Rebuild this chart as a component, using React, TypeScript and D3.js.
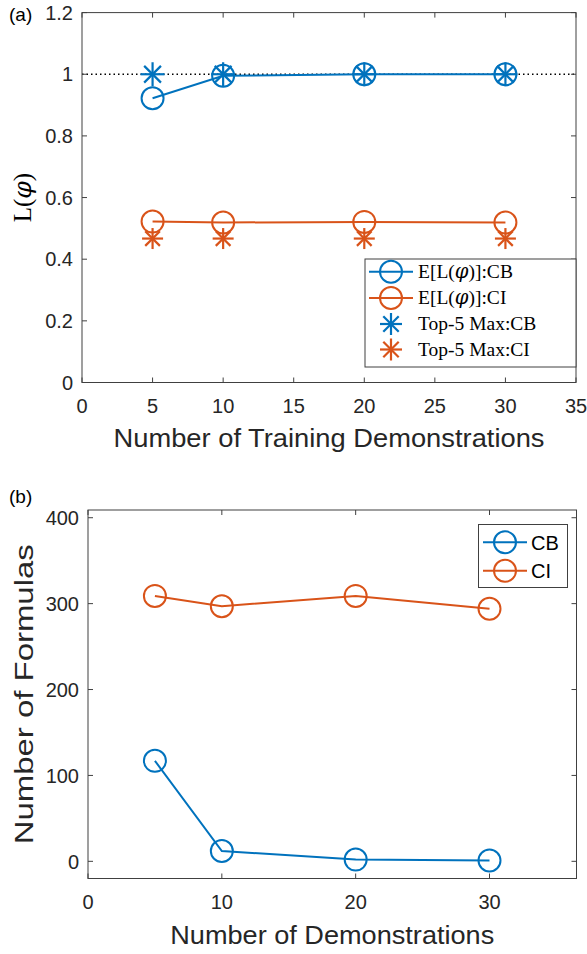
import React from "react";
import * as d3 from "d3";

const demosA = [5, 10, 20, 30];
const meanCB = [0.922, 0.995, 1.0, 1.0];
const meanCI = [0.522, 0.519, 0.521, 0.519];
const topCB = [1.0, 1.0, 1.0, 1.0];
const topCI = [0.467, 0.467, 0.467, 0.467];
const xTicksA = [0, 5, 10, 15, 20, 25, 30, 35];
const yTicksA = [0, 0.2, 0.4, 0.6, 0.8, 1, 1.2];

const demosB = [5, 10, 20, 30];
const formulasCB = [117, 12, 2, 1];
const formulasCI = [309, 297, 309, 294];
const xTicksB = [0, 10, 20, 30];
const yTicksB = [0, 100, 200, 300, 400];

const BLUE = "#0072BD";
const ORANGE = "#D95319";
const AX = "#404040";
const SANS = "'Liberation Sans', Arial, sans-serif";
const SERIF = "'Liberation Serif', 'DejaVu Serif', serif";
const PHI = "'DejaVu Serif', serif";

function Asterisk({ x, y, r, color }: { x: number; y: number; r: number; color: string }) {
  const d = r * 0.7;
  return (
    <g stroke={color} strokeWidth={2.2} fill="none">
      <line x1={x - r} y1={y} x2={x + r} y2={y} />
      <line x1={x} y1={y - r} x2={x} y2={y + r} />
      <line x1={x - d} y1={y - d} x2={x + d} y2={y + d} />
      <line x1={x - d} y1={y + d} x2={x + d} y2={y - d} />
    </g>
  );
}

function Frame({ x, y, xt, yt, xfmt, yfmt, tl }: any) {
  const [x0, x1] = x.range();
  const [y0, y1] = y.range();
  return (
    <g>
      <rect x={x0} y={y1} width={x1 - x0} height={y0 - y1} fill="none" stroke={AX} strokeWidth={1} />
      {xt.map((t: number) => (
        <g key={"x" + t}>
          <line x1={x(t)} x2={x(t)} y1={y0} y2={y0 - tl} stroke={AX} />
          <line x1={x(t)} x2={x(t)} y1={y1} y2={y1 + tl} stroke={AX} />
          <text x={x(t)} y={y0 + 30} textAnchor="middle" fontFamily={SANS} fontSize={20} fill="#262626">
            {xfmt(t)}
          </text>
        </g>
      ))}
      {yt.map((t: number) => (
        <g key={"y" + t}>
          <line x1={x0} x2={x0 + tl} y1={y(t)} y2={y(t)} stroke={AX} />
          <line x1={x1} x2={x1 - tl} y1={y(t)} y2={y(t)} stroke={AX} />
          <text x={x0 - 9} y={y(t)} dy="0.36em" textAnchor="end" fontFamily={SANS} fontSize={20} fill="#262626">
            {yfmt(t)}
          </text>
        </g>
      ))}
    </g>
  );
}

function PhiLabel({ pre, post }: { pre: string; post: string }) {
  return (
    <>
      {pre}
      <tspan fontFamily={PHI} fontStyle="italic">φ</tspan>
      {post}
    </>
  );
}

export default function App() {
  const W = 587, H = 954;

  // Panel (a)
  const xa = d3.scaleLinear().domain([0, 35]).range([82, 576]);
  const ya = d3.scaleLinear().domain([0, 1.2]).range([382.5, 12.6]);
  const lineA = d3.line<[number, number]>().x((d) => xa(d[0])).y((d) => ya(d[1]));
  const ptsMeanCB = demosA.map((d, i) => [d, meanCB[i]] as [number, number]);
  const ptsMeanCI = demosA.map((d, i) => [d, meanCI[i]] as [number, number]);

  // Panel (b)
  const xb = d3.scaleLinear().domain([0, 36.5]).range([88, 576.5]);
  const yb = d3.scaleLinear().domain([-20, 409]).range([878.5, 510]);
  const lineB = d3.line<[number, number]>().x((d) => xb(d[0])).y((d) => yb(d[1]));
  const ptsCB = demosB.map((d, i) => [d, formulasCB[i]] as [number, number]);
  const ptsCI = demosB.map((d, i) => [d, formulasCI[i]] as [number, number]);

  const R = 11;

  const legA = [
    { pre: "E[L(", post: ")]:CB", color: BLUE, kind: "circle" },
    { pre: "E[L(", post: ")]:CI", color: ORANGE, kind: "circle" },
    { pre: "Top-5 Max:CB", post: "", color: BLUE, kind: "star" },
    { pre: "Top-5 Max:CI", post: "", color: ORANGE, kind: "star" },
  ];
  const legAy = [271.7, 298, 324, 349.5];

  return (
    <svg width={W} height={H} style={{ display: "block", position: "absolute", left: 0, top: 0 }}>
      <rect width={W} height={H} fill="#fff" />
      {/* Panel (a) */}
      <text x={9} y={21} fontFamily={SANS} fontSize={19} fill="#000">(a)</text>
      <line x1={xa(0)} x2={xa(35)} y1={ya(1)} y2={ya(1)} stroke="#000" strokeWidth={1.3} strokeDasharray="1.5,3" />
      <path d={lineA(ptsMeanCB) || ""} fill="none" stroke={BLUE} strokeWidth={2} />
      <path d={lineA(ptsMeanCI) || ""} fill="none" stroke={ORANGE} strokeWidth={2} />
      {ptsMeanCB.map((p, i) => (
        <circle key={"mcb" + i} cx={xa(p[0])} cy={ya(p[1])} r={R} fill="none" stroke={BLUE} strokeWidth={2} />
      ))}
      {ptsMeanCI.map((p, i) => (
        <circle key={"mci" + i} cx={xa(p[0])} cy={ya(p[1])} r={R} fill="none" stroke={ORANGE} strokeWidth={2} />
      ))}
      {demosA.map((d, i) => (
        <Asterisk key={"tcb" + i} x={xa(d)} y={ya(topCB[i])} r={12} color={BLUE} />
      ))}
      {demosA.map((d, i) => (
        <Asterisk key={"tci" + i} x={xa(d)} y={ya(topCI[i])} r={10.5} color={ORANGE} />
      ))}
      <Frame x={xa} y={ya} xt={xTicksA} yt={yTicksA} xfmt={(t: number) => String(t)} yfmt={(t: number) => String(t)} tl={5} />
      <text x={(82 + 576) / 2} y={447} textAnchor="middle" fontFamily={SANS} fontSize={25} textLength={431} lengthAdjust="spacingAndGlyphs" fill="#262626">
        Number of Training Demonstrations
      </text>
      <text transform={`translate(31, ${(12.6 + 382.5) / 2}) rotate(-90)`} textAnchor="middle" fontFamily={SERIF} fontSize={25} fill="#000">
        <PhiLabel pre="L(" post=")" />
      </text>
      {/* Legend (a) */}
      <rect x={365} y={259} width={211} height={108} fill="#fff" stroke={AX} strokeWidth={1} />
      {legA.map((e, i) => (
        <g key={"la" + i}>
          {e.kind === "circle" ? (
            <g>
              <line x1={369} x2={413} y1={legAy[i]} y2={legAy[i]} stroke={e.color} strokeWidth={2} />
              <circle cx={391} cy={legAy[i]} r={R} fill="none" stroke={e.color} strokeWidth={2} />
            </g>
          ) : (
            <Asterisk x={391} y={legAy[i]} r={11} color={e.color} />
          )}
          <text x={418} y={legAy[i]} dy="0.33em" fontFamily={SERIF} fontSize={19.5} fill="#000">
            {e.kind === "circle" ? <PhiLabel pre={e.pre} post={e.post} /> : e.pre}
          </text>
        </g>
      ))}

      {/* Panel (b) */}
      <text x={9} y={503} fontFamily={SANS} fontSize={19} fill="#000">(b)</text>
      <path d={lineB(ptsCB) || ""} fill="none" stroke={BLUE} strokeWidth={2} />
      <path d={lineB(ptsCI) || ""} fill="none" stroke={ORANGE} strokeWidth={2} />
      {ptsCB.map((p, i) => (
        <circle key={"bcb" + i} cx={xb(p[0])} cy={yb(p[1])} r={R} fill="none" stroke={BLUE} strokeWidth={2} />
      ))}
      {ptsCI.map((p, i) => (
        <circle key={"bci" + i} cx={xb(p[0])} cy={yb(p[1])} r={R} fill="none" stroke={ORANGE} strokeWidth={2} />
      ))}
      <Frame x={xb} y={yb} xt={xTicksB} yt={yTicksB} xfmt={(t: number) => String(t)} yfmt={(t: number) => String(t)} tl={5} />
      <text x={(88 + 576.5) / 2} y={944} textAnchor="middle" fontFamily={SANS} fontSize={26} textLength={324} lengthAdjust="spacingAndGlyphs" fill="#262626">
        Number of Demonstrations
      </text>
      <text transform={`translate(33, ${(510 + 878.5) / 2}) rotate(-90)`} textAnchor="middle" fontFamily={SANS} fontSize={26} textLength={300} lengthAdjust="spacingAndGlyphs" fill="#262626">
        Number of Formulas
      </text>
      {/* Legend (b) */}
      <rect x={478.5} y={524.5} width={89} height={63} fill="#fff" stroke={AX} strokeWidth={1} />
      {[
        { label: "CB", color: BLUE, y: 542.3 },
        { label: "CI", color: ORANGE, y: 570.7 },
      ].map((e, i) => (
        <g key={"lb" + i}>
          <line x1={483} x2={527} y1={e.y} y2={e.y} stroke={e.color} strokeWidth={2} />
          <circle cx={505} cy={e.y} r={R} fill="none" stroke={e.color} strokeWidth={2} />
          <text x={531} y={e.y} dy="0.36em" fontFamily={SANS} fontSize={20} fill="#000">
            {e.label}
          </text>
        </g>
      ))}
    </svg>
  );
}
